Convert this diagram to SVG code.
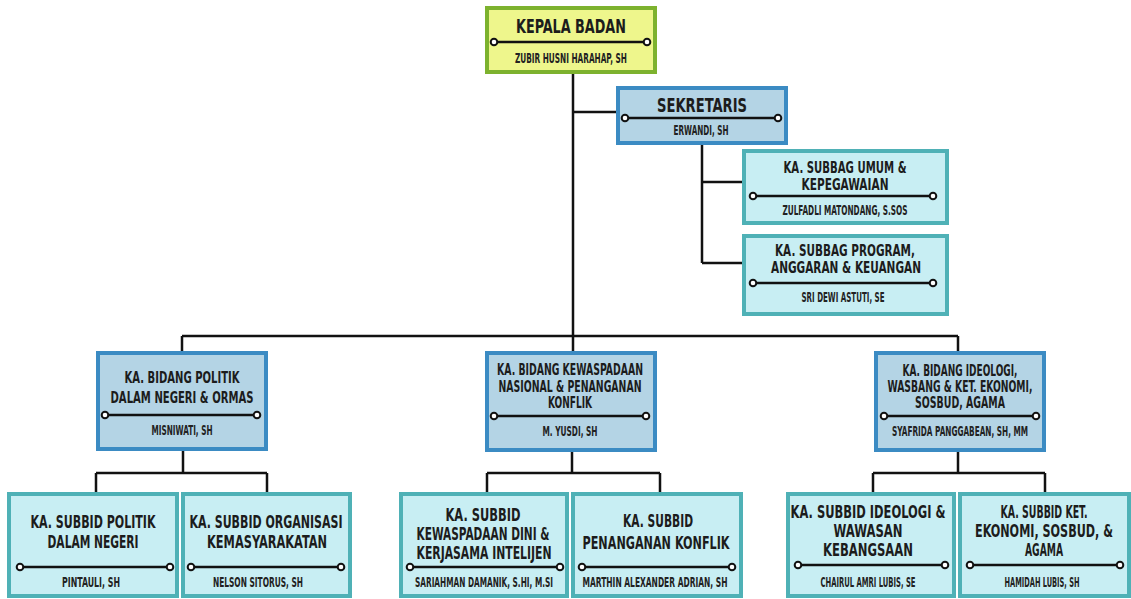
<svg xmlns="http://www.w3.org/2000/svg" width="1131" height="599" viewBox="0 0 1131 599">
<style>
.bg{fill:#ffffff}
.k{fill:#eef68c;stroke:#7db22e;stroke-width:4}
.b{fill:#b4d4e5;stroke:#3b8bc3;stroke-width:4}
.s{fill:#c8eef3;stroke:#4fb1b6;stroke-width:4}
text{font-family:"DejaVu Sans Condensed","DejaVu Sans","Liberation Sans",sans-serif;font-weight:bold;fill:#1c1c1c;text-anchor:start}
.t20{font-size:20px}
.t19{font-size:19px}
.t16{font-size:16px}
.t15{font-size:15px}
.t18{font-size:18px}
.n{font-size:14px;fill:#222}
.div{stroke:#111;stroke-width:2.5}
.dot{fill:#fff;stroke:#111;stroke-width:2}
.c{fill:none;stroke:#111;stroke-width:2.5}
</style>
<defs>
<circle id="dv" class="dot" r="3.3"/>
</defs>
<rect class="bg" width="1131" height="599"/>
<g id="connectors">
<path class="c" d="M573,72V352M573,112H618M702,143V263M702,182H744M702,263H744M182,336H958M182,336V352M958,336V352"/>
<path class="c" d="M183,449V473M96,473H267M96,473V494M267,473V494"/>
<path class="c" d="M572,450V473M487,473H660M487,473V494M660,473V494"/>
<path class="c" d="M958,450V473M873,473H1045M873,473V494M1045,473V494"/>
</g>
<g id="kepala">
<rect class="k" x="487" y="8" width="168" height="64"/>
<text class="t20" transform="translate(516,33) scale(0.7,1)" textLength="157.1" lengthAdjust="spacingAndGlyphs">KEPALA BADAN</text>
<line class="div" x1="494" y1="42" x2="647" y2="42"/><use href="#dv" x="494" y="42"/><use href="#dv" x="647" y="42"/>
<text class="n" transform="translate(515,63) scale(0.62,1)" textLength="180.6" lengthAdjust="spacingAndGlyphs">ZUBIR HUSNI HARAHAP, SH</text>
</g>
<g id="sekretaris">
<rect class="b" x="618" y="88" width="168" height="55"/>
<text class="t19" transform="translate(657,112) scale(0.7,1)" textLength="128.6" lengthAdjust="spacingAndGlyphs">SEKRETARIS</text>
<line class="div" x1="625" y1="118" x2="778" y2="118"/><use href="#dv" x="625" y="118"/><use href="#dv" x="778" y="118"/>
<text class="n" transform="translate(673.5,135) scale(0.62,1)" textLength="88.7" lengthAdjust="spacingAndGlyphs">ERWANDI, SH</text>
</g>
<g id="subbag-umum">
<rect class="s" x="744" y="151" width="203" height="72"/>
<text class="t16" transform="translate(783.5,173) scale(0.7,1)" textLength="175.7" lengthAdjust="spacingAndGlyphs">KA. SUBBAG UMUM &amp;</text>
<text class="t16" transform="translate(801.5,190) scale(0.7,1)" textLength="124.3" lengthAdjust="spacingAndGlyphs">KEPEGAWAIAN</text>
<line class="div" x1="753" y1="196" x2="933" y2="196"/><use href="#dv" x="753" y="196"/><use href="#dv" x="933" y="196"/>
<text class="n" transform="translate(782.5,215) scale(0.62,1)" textLength="201.6" lengthAdjust="spacingAndGlyphs">ZULFADLI MATONDANG, S.SOS</text>
</g>
<g id="subbag-program">
<rect class="s" x="744" y="236" width="203" height="78"/>
<text class="t16" transform="translate(775,256) scale(0.7,1)" textLength="200" lengthAdjust="spacingAndGlyphs">KA. SUBBAG PROGRAM,</text>
<text class="t16" transform="translate(771,273) scale(0.7,1)" textLength="214.3" lengthAdjust="spacingAndGlyphs">ANGGARAN &amp; KEUANGAN</text>
<line class="div" x1="753" y1="283" x2="933" y2="283"/><use href="#dv" x="753" y="283"/><use href="#dv" x="933" y="283"/>
<text class="n" transform="translate(801.5,302) scale(0.62,1)" textLength="133.9" lengthAdjust="spacingAndGlyphs">SRI DEWI ASTUTI, SE</text>
</g>
<g id="bidang-politik">
<rect class="b" x="98" y="353" width="168" height="96"/>
<text class="t15" transform="translate(124.5,383) scale(0.7,1)" textLength="164.3" lengthAdjust="spacingAndGlyphs">KA. BIDANG POLITIK</text>
<text class="t15" transform="translate(110.5,403) scale(0.7,1)" textLength="204.3" lengthAdjust="spacingAndGlyphs">DALAM NEGERI &amp; ORMAS</text>
<line class="div" x1="105" y1="415" x2="257" y2="415"/><use href="#dv" x="105" y="415"/><use href="#dv" x="257" y="415"/>
<text class="n" transform="translate(151.5,435) scale(0.62,1)" textLength="98.4" lengthAdjust="spacingAndGlyphs">MISNIWATI, SH</text>
</g>
<g id="bidang-kewaspadaan">
<rect class="b" x="487" y="353" width="168" height="97"/>
<text class="t15" transform="translate(497,375) scale(0.7,1)" textLength="208.6" lengthAdjust="spacingAndGlyphs">KA. BIDANG KEWASPADAAN</text>
<text class="t15" transform="translate(498.5,392) scale(0.7,1)" textLength="204.3" lengthAdjust="spacingAndGlyphs">NASIONAL  &amp; PENANGANAN</text>
<text class="t15" transform="translate(548,408) scale(0.7,1)" textLength="62.9" lengthAdjust="spacingAndGlyphs">KONFLIK</text>
<line class="div" x1="494" y1="416" x2="646" y2="416"/><use href="#dv" x="494" y="416"/><use href="#dv" x="646" y="416"/>
<text class="n" transform="translate(542.5,436) scale(0.62,1)" textLength="88.7" lengthAdjust="spacingAndGlyphs">M. YUSDI, SH</text>
</g>
<g id="bidang-ideologi">
<rect class="b" x="876" y="353" width="168" height="97"/>
<text class="t15" transform="translate(902.5,376) scale(0.7,1)" textLength="164.3" lengthAdjust="spacingAndGlyphs">KA. BIDANG IDEOLOGI,</text>
<text class="t15" transform="translate(887.5,392) scale(0.7,1)" textLength="207.1" lengthAdjust="spacingAndGlyphs">WASBANG &amp; KET. EKONOMI,</text>
<text class="t15" transform="translate(915,408) scale(0.7,1)" textLength="128.6" lengthAdjust="spacingAndGlyphs">SOSBUD, AGAMA</text>
<line class="div" x1="884" y1="416" x2="1036" y2="416"/><use href="#dv" x="884" y="416"/><use href="#dv" x="1036" y="416"/>
<text class="n" transform="translate(892,436) scale(0.62,1)" textLength="219.4" lengthAdjust="spacingAndGlyphs">SYAFRIDA PANGGABEAN, SH, MM</text>
</g>
<g id="subbid-politik">
<rect class="s" x="9" y="494" width="168" height="102"/>
<text class="t18" transform="translate(30.5,528) scale(0.7,1)" textLength="178.6" lengthAdjust="spacingAndGlyphs">KA. SUBBID POLITIK</text>
<text class="t18" transform="translate(47.5,548) scale(0.7,1)" textLength="130" lengthAdjust="spacingAndGlyphs">DALAM NEGERI</text>
<line class="div" x1="20" y1="567" x2="170" y2="567"/><use href="#dv" x="20" y="567"/><use href="#dv" x="170" y="567"/>
<text class="n" transform="translate(62,587) scale(0.62,1)" textLength="93.5" lengthAdjust="spacingAndGlyphs">PINTAULI, SH</text>
</g>
<g id="subbid-organisasi">
<rect class="s" x="183" y="494" width="167" height="102"/>
<text class="t18" transform="translate(189.5,528) scale(0.7,1)" textLength="218.6" lengthAdjust="spacingAndGlyphs">KA. SUBBID ORGANISASI</text>
<text class="t18" transform="translate(207,548) scale(0.7,1)" textLength="171.4" lengthAdjust="spacingAndGlyphs">KEMASYARAKATAN</text>
<line class="div" x1="191" y1="567" x2="341" y2="567"/><use href="#dv" x="191" y="567"/><use href="#dv" x="341" y="567"/>
<text class="n" transform="translate(213,587) scale(0.62,1)" textLength="145.2" lengthAdjust="spacingAndGlyphs">NELSON SITORUS, SH</text>
</g>
<g id="subbid-kewaspadaan-dini">
<rect class="s" x="401" y="494" width="166" height="102"/>
<text class="t18" transform="translate(445.5,521) scale(0.7,1)" textLength="107.1" lengthAdjust="spacingAndGlyphs">KA. SUBBID</text>
<text class="t18" transform="translate(416.5,540) scale(0.7,1)" textLength="190" lengthAdjust="spacingAndGlyphs">KEWASPADAAN DINI &amp;</text>
<text class="t18" transform="translate(416.5,559) scale(0.7,1)" textLength="192.9" lengthAdjust="spacingAndGlyphs">KERJASAMA INTELIJEN</text>
<line class="div" x1="410" y1="567" x2="560" y2="567"/><use href="#dv" x="410" y="567"/><use href="#dv" x="560" y="567"/>
<text class="n" transform="translate(415,587) scale(0.62,1)" textLength="222.6" lengthAdjust="spacingAndGlyphs">SARIAHMAN DAMANIK, S.HI, M.SI</text>
</g>
<g id="subbid-penanganan-konflik">
<rect class="s" x="573" y="494" width="168" height="102"/>
<text class="t18" transform="translate(623,527) scale(0.7,1)" textLength="100" lengthAdjust="spacingAndGlyphs">KA. SUBBID</text>
<text class="t18" transform="translate(582.5,549) scale(0.7,1)" textLength="210" lengthAdjust="spacingAndGlyphs">PENANGANAN KONFLIK</text>
<line class="div" x1="582" y1="567" x2="732" y2="567"/><use href="#dv" x="582" y="567"/><use href="#dv" x="732" y="567"/>
<text class="n" transform="translate(582.5,587) scale(0.62,1)" textLength="233.9" lengthAdjust="spacingAndGlyphs">MARTHIN ALEXANDER ADRIAN, SH</text>
</g>
<g id="subbid-ideologi">
<rect class="s" x="788" y="494" width="166" height="102"/>
<text class="t18" transform="translate(790.5,518) scale(0.7,1)" textLength="221.4" lengthAdjust="spacingAndGlyphs">KA. SUBBID IDEOLOGI &amp;</text>
<text class="t18" transform="translate(833.5,537) scale(0.7,1)" textLength="98.6" lengthAdjust="spacingAndGlyphs">WAWASAN</text>
<text class="t18" transform="translate(823,556) scale(0.7,1)" textLength="128.6" lengthAdjust="spacingAndGlyphs">KEBANGSAAN</text>
<line class="div" x1="798" y1="565" x2="945" y2="565"/><use href="#dv" x="798" y="565"/><use href="#dv" x="945" y="565"/>
<text class="n" transform="translate(820.5,587) scale(0.62,1)" textLength="153.2" lengthAdjust="spacingAndGlyphs">CHAIRUL AMRI LUBIS, SE</text>
</g>
<g id="subbid-ekonomi">
<rect class="s" x="960" y="494" width="169" height="102"/>
<text class="t18" transform="translate(1000.5,518) scale(0.7,1)" textLength="124.3" lengthAdjust="spacingAndGlyphs">KA. SUBBID KET.</text>
<text class="t18" transform="translate(975,537) scale(0.7,1)" textLength="197.1" lengthAdjust="spacingAndGlyphs">EKONOMI, SOSBUD, &amp;</text>
<text class="t18" transform="translate(1025,556) scale(0.7,1)" textLength="54.3" lengthAdjust="spacingAndGlyphs">AGAMA</text>
<line class="div" x1="970" y1="565" x2="1120" y2="565"/><use href="#dv" x="970" y="565"/><use href="#dv" x="1120" y="565"/>
<text class="n" transform="translate(1004.5,587) scale(0.62,1)" textLength="121" lengthAdjust="spacingAndGlyphs">HAMIDAH LUBIS, SH</text>
</g>
</svg>
